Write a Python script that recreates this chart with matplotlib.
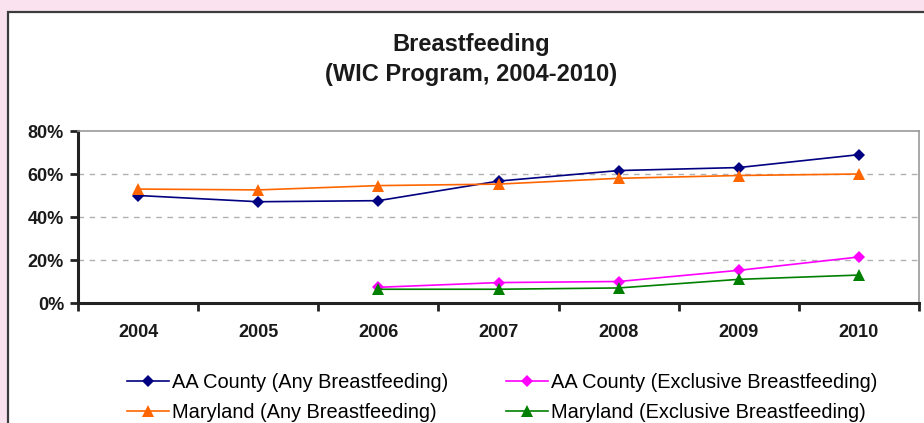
import numpy as np
import matplotlib
matplotlib.use("Agg")
import matplotlib.pyplot as plt
from matplotlib.patches import Rectangle
from matplotlib.ticker import FixedLocator, PercentFormatter

plt.rcParams["font.family"] = ["Liberation Sans", "DejaVu Sans"]

years = ["2004", "2005", "2006", "2007", "2008", "2009", "2010"]
aa_any = [50.0, 47.1, 47.6, 56.7, 61.6, 63.0, 69.0]
md_any = [53.0, 52.6, 54.6, 55.3, 58.0, 59.3, 60.0]
aa_excl = [np.nan, np.nan, 7.3, 9.5, 10.0, 15.2, 21.4]
md_excl = [np.nan, np.nan, 6.4, 6.4, 7.0, 11.0, 13.0]

W, H = 924, 423
fig = plt.figure(figsize=(W / 100, H / 100), dpi=100)
fig.patch.set_facecolor("#fae3ef")

# white chart panel with dark frame
fig.patches.append(Rectangle((8 / W, -0.1), 1.2, 1.1 - 12 / H, transform=fig.transFigure,
                             facecolor="white", edgecolor="#3c3c3c", linewidth=1.6, zorder=-5))

left, right, top, bottom = 78, 919, 131, 303
ax = fig.add_axes([left / W, 1 - bottom / H, (right - left) / W, (bottom - top) / H])
ax.set_facecolor("none")
ax.set_zorder(2)

x = np.arange(len(years))
series = [
    (aa_any, "AA County (Any Breastfeeding)", "#000080", "D", 6.5),
    (md_any, "Maryland (Any Breastfeeding)", "#ff6600", "^", 8.5),
    (aa_excl, "AA County (Exclusive Breastfeeding)", "#ff00ff", "D", 6.5),
    (md_excl, "Maryland (Exclusive Breastfeeding)", "#008000", "^", 8.5),
]
handles = []
for vals, lab, col, mk, ms in series:
    h, = ax.plot(x, vals, color=col, marker=mk, markersize=ms, linewidth=1.2,
                 markeredgewidth=0, label=lab, zorder=3)
    handles.append(h)

ax.set_xlim(-0.5, len(years) - 0.5)
ax.set_ylim(0, 80)
ax.yaxis.set_major_locator(FixedLocator([0, 20, 40, 60, 80]))
ax.yaxis.set_major_formatter(PercentFormatter(decimals=0))
ax.xaxis.set_major_locator(FixedLocator(np.arange(-0.5, len(years), 1.0)))
ax.xaxis.set_minor_locator(FixedLocator(x))
ax.set_xticklabels([])
ax.set_xticklabels(years, minor=True)
ax.tick_params(axis="x", which="minor", length=0, pad=15)
ax.tick_params(axis="x", which="major", length=6, width=2, color="#222222", direction="out")
ax.tick_params(axis="y", length=6, width=2, color="#222222", direction="out", pad=4)
for lbl in ax.get_xticklabels(minor=True) + ax.get_yticklabels():
    lbl.set_fontweight("bold")
    lbl.set_fontsize(13)
    lbl.set_color("#1a1a1a")

for y in (20, 40, 60):
    ax.axhline(y, color="#b0b0b0", linewidth=1, linestyle=(0, (4, 4)), zorder=1)

for s in ("left", "bottom"):
    ax.spines[s].set_color("#222222")
    ax.spines[s].set_linewidth(2.2)
for s in ("top", "right"):
    ax.spines[s].set_color("#999999")
    ax.spines[s].set_linewidth(1.2)

fig.text(0.51, 1 - 45 / H, "Breastfeeding", ha="center", va="center",
         fontsize=17, fontweight="bold", color="#1a1a1a")
fig.text(0.51, 1 - 75 / H, "(WIC Program, 2004-2010)", ha="center", va="center",
         fontsize=17, fontweight="bold", color="#1a1a1a")

fig.legend(handles=handles, loc="upper left", bbox_to_anchor=(127 / W, 1 - 373 / H),
           ncol=2, frameon=False, fontsize=14.4, handlelength=2.1, handletextpad=0.15,
           columnspacing=2.9, labelspacing=0.55, borderaxespad=0, borderpad=0)

fig.savefig("out.png", dpi=100, facecolor=fig.get_facecolor())
